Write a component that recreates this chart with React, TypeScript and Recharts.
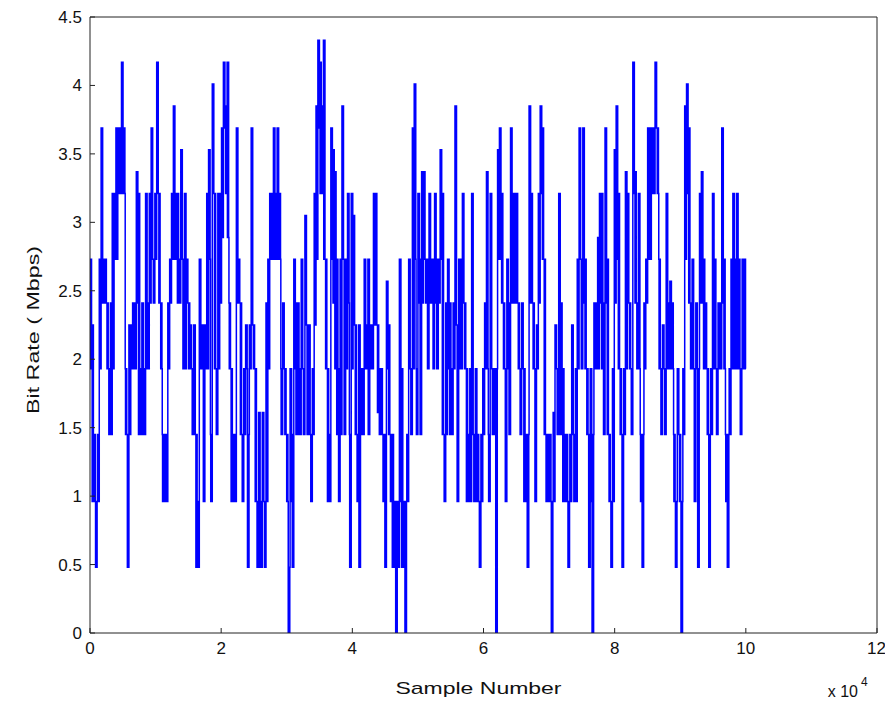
import React from "react";
import { LineChart, Line, XAxis, YAxis } from "recharts";

// Bit rate (Mbps), one entry per ~285 samples.
// Each entry is [a, b]: within that stretch the rate keeps flipping between the two levels.
const block0: [number, number][] = [
  [2.73, 1.93], [2.25, 0.96], [1.45, 0.96], [0.48, 0.96], [1.45, 0.96], [2.73, 1.93], [3.69, 2.41], [2.73, 2.41], [2.73, 2.41],
  [2.41, 1.93], [1.93, 1.45], [2.41, 1.45], [3.21, 1.93], [3.21, 2.73], [3.69, 2.73], [3.69, 3.21], [3.69, 3.21], [4.17, 3.21],
  [3.69, 3.21], [1.93, 1.45], [1.45, 0.48], [2.25, 1.45], [2.25, 1.93], [2.41, 1.93], [2.41, 1.93], [3.37, 2.41], [3.21, 1.45],
  [1.93, 1.45], [2.41, 1.45], [1.93, 1.45], [3.21, 1.93], [2.41, 1.93], [3.21, 2.41], [3.69, 2.73], [2.73, 2.41], [3.21, 2.73],
];
const block1: [number, number][] = [
  [4.17, 3.21], [3.21, 2.41], [2.41, 1.93], [1.45, 0.96], [1.45, 0.96], [1.45, 0.96], [2.41, 1.93], [2.73, 2.41], [3.21, 2.73],
  [3.85, 2.73], [3.21, 2.73], [3.21, 2.41], [2.73, 2.41], [3.53, 2.73], [2.73, 1.93], [3.21, 1.93], [2.73, 2.41], [2.41, 1.93],
  [2.25, 1.93], [1.93, 1.45], [2.25, 1.45], [1.45, 0.48], [0.96, 0.48], [2.73, 1.93], [2.25, 1.93], [2.25, 0.96], [2.25, 1.93],
  [3.21, 1.93], [3.53, 2.73], [1.45, 0.96], [4.01, 3.21], [3.21, 1.93], [1.93, 1.45], [3.21, 1.93], [3.21, 2.41],
];
const block2: [number, number][] = [
  [3.69, 2.89], [4.17, 3.69], [3.85, 3.21], [4.17, 2.89], [2.41, 1.93], [1.93, 0.96], [1.45, 0.96], [1.45, 0.96], [3.69, 2.41],
  [2.73, 2.41], [2.41, 1.45], [1.45, 0.96], [1.93, 1.45], [2.25, 1.93], [0.48, 1.45], [2.25, 1.93], [3.69, 2.25], [2.25, 1.93],
  [1.93, 0.96], [0.96, 0.48], [1.61, 0.48], [0.96, 0.48], [1.61, 0.96], [0.96, 0.48], [2.41, 0.96], [2.73, 1.93], [3.21, 2.73],
  [3.21, 2.73], [3.69, 2.73], [3.21, 2.73], [3.69, 2.73], [3.21, 2.73], [1.93, 1.45], [2.41, 1.93], [1.93, 1.45], [1.45, 0.96],
];
const block3: [number, number][] = [
  [0, 0.48], [1.93, 0.96], [1.45, 0.48], [2.73, 1.93], [2.41, 1.45], [2.41, 1.45], [1.93, 1.45], [2.73, 1.93], [1.93, 1.45],
  [3.05, 2.25], [2.25, 1.45], [2.25, 1.45], [1.45, 0.96], [1.93, 1.45], [3.21, 2.25], [3.85, 2.73], [4.33, 3.69], [4.17, 3.21],
  [3.85, 3.21], [4.33, 2.73], [2.73, 1.93], [1.93, 0.96], [1.45, 0.96], [3.69, 2.73], [3.53, 2.41], [3.37, 1.93], [2.73, 1.45],
  [1.93, 0.96], [2.73, 1.45], [3.85, 2.73], [2.73, 1.45], [2.73, 1.93], [3.21, 2.41], [1.45, 0.48], [3.21, 1.93],
];
const block4: [number, number][] = [
  [3.05, 2.25], [2.25, 1.45], [1.45, 0.96], [2.25, 0.48], [1.93, 1.45], [1.93, 1.45], [2.73, 1.93], [2.25, 1.93], [2.73, 1.45],
  [2.25, 1.93], [2.25, 1.93], [3.21, 2.25], [3.21, 2.25], [2.25, 1.61], [1.93, 1.45], [1.93, 1.45], [1.45, 0.96], [1.45, 0.48],
  [2.57, 1.93], [2.25, 1.45], [1.45, 0.96], [1.45, 0.48], [0.96, 0.48], [0, 0.96], [0.96, 0.48], [2.73, 0.96], [1.93, 0.48],
  [0.96, 0.48], [0, 0.96], [1.45, 0.96], [2.73, 1.93], [1.93, 1.45], [3.69, 1.93], [4.01, 2.73], [1.93, 1.45],
];
const block5: [number, number][] = [
  [3.21, 2.41], [2.73, 1.45], [3.37, 2.41], [3.37, 2.73], [2.73, 2.41], [2.73, 1.93], [3.21, 2.41], [2.73, 2.41], [2.73, 1.93],
  [3.21, 2.41], [2.73, 1.93], [2.73, 2.41], [3.53, 2.73], [3.21, 1.45], [1.45, 0.96], [2.41, 1.45], [2.73, 1.93], [2.41, 1.45],
  [1.93, 1.45], [2.41, 1.93], [3.85, 2.25], [2.25, 0.96], [2.73, 1.93], [2.73, 1.93], [3.21, 2.41], [2.41, 1.93], [1.93, 0.96],
  [1.45, 0.96], [1.93, 0.96], [3.21, 1.45], [1.45, 0.96], [1.93, 0.96], [1.45, 0.96], [0.96, 0.48], [1.45, 0.96], [1.93, 1.45],
];
const block6: [number, number][] = [
  [2.41, 1.93], [3.37, 1.93], [1.45, 0.96], [3.21, 1.93], [1.93, 1.45], [1.93, 1.45], [0, 1.93], [3.53, 2.73], [3.69, 2.73],
  [3.21, 2.41], [2.41, 1.93], [1.93, 0.96], [2.73, 1.93], [2.41, 1.45], [3.69, 2.41], [3.21, 2.41], [3.21, 2.41], [3.21, 2.41],
  [2.41, 1.93], [1.93, 1.45], [2.41, 1.93], [1.93, 0.96], [1.45, 0.96], [0.48, 1.45], [3.85, 2.41], [3.21, 2.41], [2.41, 1.93],
  [1.93, 0.96], [2.25, 1.93], [3.21, 2.41], [3.85, 3.21], [3.69, 2.73], [2.73, 1.45], [1.45, 0.96], [1.45, 0.96],
];
const block7: [number, number][] = [
  [1.45, 0.96], [0, 0.96], [1.61, 0.96], [2.25, 1.93], [1.93, 1.45], [3.21, 1.45], [2.41, 1.45], [1.93, 0.96], [1.45, 0.96],
  [1.45, 0.96], [0.48, 0.96], [1.45, 0.96], [2.25, 1.45], [1.45, 0.96], [1.93, 0.96], [2.73, 1.93], [3.69, 2.73], [2.73, 1.93],
  [3.69, 2.41], [2.73, 1.93], [1.93, 1.45], [1.45, 0.48], [1.93, 0.96], [0, 1.45], [2.41, 1.93], [2.41, 1.93], [2.89, 1.93],
  [3.21, 2.41], [3.21, 1.93], [2.41, 1.45], [3.69, 2.41], [2.73, 1.45], [1.45, 0.96], [0.96, 0.48], [1.93, 0.96], [3.53, 2.41],
];
const block8: [number, number][] = [
  [3.85, 2.73], [3.21, 1.93], [1.93, 1.45], [1.45, 0.48], [1.93, 1.45], [3.37, 1.93], [3.21, 2.41], [2.41, 1.93], [1.93, 1.45],
  [4.17, 3.21], [3.37, 2.41], [2.41, 1.93], [3.21, 1.93], [1.45, 0.96], [0.48, 1.45], [2.41, 1.93], [2.73, 2.41], [3.69, 2.73],
  [3.69, 2.73], [3.69, 3.21], [3.69, 3.21], [4.17, 3.69], [3.69, 3.21], [2.73, 1.93], [1.93, 1.45], [2.25, 1.93], [1.93, 1.45],
  [3.21, 1.93], [2.41, 1.93], [2.57, 1.93], [2.41, 1.93], [1.45, 0.96], [0.48, 0.96], [1.93, 1.45], [1.45, 0.96],
];
const block9: [number, number][] = [
  [0, 0.96], [1.93, 1.45], [3.85, 2.73], [4.01, 3.21], [3.69, 2.41], [2.41, 1.93], [2.73, 1.93], [1.93, 0.96], [2.41, 1.93],
  [0.48, 1.93], [3.21, 2.41], [3.37, 2.41], [2.73, 1.93], [2.41, 1.93], [1.93, 1.45], [0.48, 1.45], [1.93, 1.45], [3.21, 1.93],
  [2.73, 1.93], [1.93, 1.45], [2.41, 1.93], [2.41, 1.93], [3.69, 2.41], [2.73, 1.93], [1.45, 0.96], [0.48, 1.45], [1.93, 1.45],
  [2.73, 1.93], [3.21, 1.93], [2.73, 1.93], [3.21, 1.93], [2.73, 1.93], [1.45, 1.93], [2.73, 1.93], [2.73, 1.93],
];

const bitRate = [...block0, ...block1, ...block2, ...block3, ...block4, ...block5, ...block6, ...block7, ...block8, ...block9];
const TOTAL_SAMPLES = 100000;
const FLIPS = 6; // level changes drawn inside one entry

const xTicks = [0, 20000, 40000, 60000, 80000, 100000, 120000];
const yTicks = [0, 0.5, 1, 1.5, 2, 2.5, 3, 3.5, 4, 4.5];

const step = TOTAL_SAMPLES / bitRate.length;
const data: { sample: number; rate: number }[] = [];
bitRate.forEach(([a, b], i) => {
  for (let k = 0; k < FLIPS; k++) {
    data.push({ sample: i * step + (k * step) / FLIPS, rate: k % 2 === 0 ? a : b });
  }
});
data.push({ sample: TOTAL_SAMPLES, rate: bitRate[bitRate.length - 1][1] });

const font = "'Liberation Sans', Arial, Helvetica, sans-serif";
const tickStyle = { fill: "#111", fontSize: 17, fontFamily: font };

function XLabel({ viewBox }: any) {
  const { x, y, width } = viewBox;
  return (
    <g fontFamily={font} fill="#111">
      <text x={x + width / 2 - 5} y={y + 61} textAnchor="middle" fontSize={17} textLength={166} lengthAdjust="spacingAndGlyphs">
        Sample Number
      </text>
      <text x={x + width - 19} y={y + 64} textAnchor="end" fontSize={16}>
        x 10
      </text>
      <text x={x + width - 16} y={y + 53} textAnchor="start" fontSize={12}>
        4
      </text>
    </g>
  );
}

function YLabel({ viewBox }: any) {
  const { y, height } = viewBox;
  const cx = 39;
  const cy = y + height / 2 + 5;
  return (
    <text
      x={cx}
      y={cy}
      transform={`rotate(-90 ${cx} ${cy})`}
      textAnchor="middle"
      fontFamily={font}
      fontSize={17}
      fill="#111"
      textLength={168}
      lengthAdjust="spacingAndGlyphs"
    >
      Bit Rate ( Mbps)
    </text>
  );
}

export default function App() {
  return (
    <div style={{ position: "fixed", left: 0, top: 0, width: 885, height: 708, background: "#fff" }}>
      <LineChart width={885} height={708} data={data} margin={{ top: 16, right: 7, bottom: 0, left: 0 }}>
        <XAxis
          xAxisId="bottom"
          dataKey="sample"
          type="number"
          domain={[0, 120000]}
          ticks={xTicks}
          allowDataOverflow
          tickFormatter={(v: number) => String(v / 10000)}
          height={75}
          tickSize={-5}
          tickMargin={14}
          stroke="#222"
          tick={tickStyle}
          label={{ content: XLabel }}
        />
        <XAxis
          xAxisId="top"
          orientation="top"
          dataKey="sample"
          type="number"
          domain={[0, 120000]}
          ticks={xTicks}
          allowDataOverflow
          height={1}
          tickSize={-5}
          tick={false}
          stroke="#222"
        />
        <YAxis
          yAxisId="left"
          type="number"
          domain={[0, 4.5]}
          ticks={yTicks}
          allowDataOverflow
          width={90}
          tickSize={-5}
          tickMargin={13}
          stroke="#222"
          tick={tickStyle}
          label={{ content: YLabel }}
        />
        <YAxis
          yAxisId="right"
          orientation="right"
          type="number"
          domain={[0, 4.5]}
          ticks={yTicks}
          allowDataOverflow
          width={1}
          tickSize={-5}
          tick={false}
          stroke="#222"
        />
        <Line
          xAxisId="bottom"
          yAxisId="left"
          type="stepAfter"
          dataKey="rate"
          stroke="#0000ff"
          strokeWidth={1.5}
          dot={false}
          isAnimationActive={false}
        />
      </LineChart>
    </div>
  );
}
